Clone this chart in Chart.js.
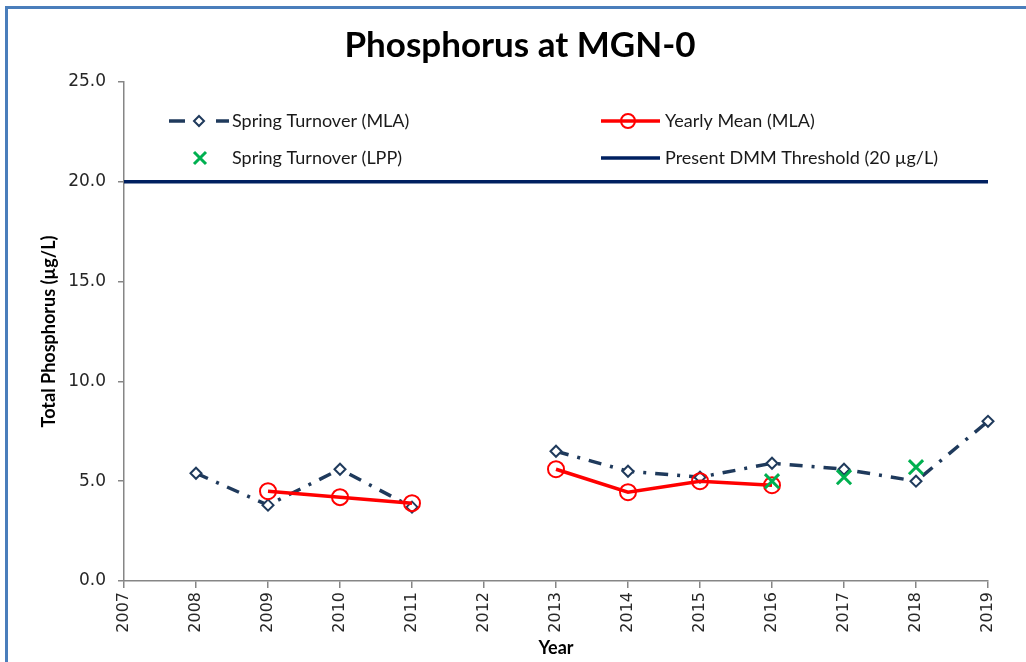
<!DOCTYPE html>
<html>
<head>
<meta charset="utf-8">
<script src="https://cdn.jsdelivr.net/npm/chart.js@4"></script>
<style>
html,body{margin:0;padding:0;background:#fff;}
#wrap{position:relative;width:1026px;height:662px;}
canvas{display:block;}
</style>
</head>
<body>
<div id="wrap"><canvas id="c" width="1026" height="662"></canvas></div>
<script>
const years = [2007, 2008, 2009, 2010, 2011, 2012, 2013, 2014, 2015, 2016, 2017, 2018, 2019];
const springMLA = [null, 5.4, 3.8, 5.6, 3.7, null, 6.5, 5.5, 5.2, 5.9, 5.6, 5.0, 8.0];
const yearlyMean = [null, null, 4.5, 4.2, 3.9, null, 5.6, 4.45, 5.0, 4.8, null, null, null];
const springLPP = [null, null, null, null, null, null, null, null, null, 5.0, 5.2, 5.7, null];
const threshold = [20, null, null, null, null, null, null, null, null, null, null, null, 20];
const yTicks = [0, 5, 10, 15, 20, 25];
const seriesNames = ["Spring Turnover (MLA)", "Yearly Mean (MLA)", "Spring Turnover (LPP)", "Present DMM Threshold (20 \u00b5g/L)"];

function pts(arr){ return years.map((y,i)=>({x:y, y:arr[i]})); }
function ptsNoNull(arr){ return years.map((y,i)=>({x:y,y:arr[i]})).filter(p=>p.y!==null); }

const BLUE = '#1F3A5C';
const RED = '#FF0000';
const GREEN = '#00B050';
const NAVY = '#002060';
const DASH = [13, 9, 3, 9];

const legendPlugin = {
  id: 'customLegend',
  afterDraw(chart){
    const ctx = chart.ctx;
    ctx.save();
    // title
    ctx.fillStyle = '#000';
    ctx.font = 'bold 35px Lato';
    ctx.textAlign = 'center';
    ctx.textBaseline = 'middle';
    ctx.fillText('Phosphorus at MGN-0', 520, 46);

    ctx.font = '18px Lato';
    ctx.textAlign = 'left';
    ctx.fillStyle = '#1a1a1a';
    const r1 = 121, r2 = 158;
    // item 1: dashed blue with diamond
    ctx.strokeStyle = BLUE; ctx.lineWidth = 3.5; ctx.lineCap='butt';
    ctx.beginPath(); ctx.moveTo(169, r1); ctx.lineTo(185, r1); ctx.stroke();
    ctx.beginPath(); ctx.moveTo(216, r1); ctx.lineTo(229, r1); ctx.stroke();
    ctx.lineWidth = 2; ctx.fillStyle='#fff';
    ctx.beginPath(); ctx.moveTo(199, r1-5); ctx.lineTo(204, r1); ctx.lineTo(199, r1+5); ctx.lineTo(194, r1); ctx.closePath(); ctx.fill(); ctx.stroke();
    ctx.fillStyle = '#1a1a1a';
    ctx.fillText(seriesNames[0], 232, r1);
    // item 3: green x
    ctx.strokeStyle = GREEN; ctx.lineWidth = 3;
    ctx.beginPath(); ctx.moveTo(194, r2-6); ctx.lineTo(206, r2+6); ctx.moveTo(206, r2-6); ctx.lineTo(194, r2+6); ctx.stroke();
    ctx.fillText(seriesNames[2], 232, r2);
    // item 2: red line w/ circle
    ctx.strokeStyle = RED; ctx.lineWidth = 3.5;
    ctx.beginPath(); ctx.moveTo(601, r1); ctx.lineTo(660, r1); ctx.stroke();
    ctx.lineWidth = 2;
    ctx.beginPath(); ctx.arc(628, r1, 7, 0, Math.PI*2); ctx.stroke();
    ctx.fillText(seriesNames[1], 665, r1);
    // item 4: navy line
    ctx.strokeStyle = NAVY; ctx.lineWidth = 3.5;
    ctx.beginPath(); ctx.moveTo(601, r2); ctx.lineTo(660, r2); ctx.stroke();
    ctx.fillText(seriesNames[3], 665, r2);

    // frame
    ctx.fillStyle = '#4A7EBB';
    ctx.fillRect(5, 6, 3, 656);
    ctx.fillRect(5, 6, 1021, 3);
    ctx.restore();
  }
};

new Chart(document.getElementById('c'), {
  type: 'line',
  data: {
    datasets: [
      {
        label: seriesNames[2], data: ptsNoNull(springLPP), showLine: false, clip: false,
        pointStyle: 'crossRot', pointRadius: 10, pointBorderWidth: 3,
        borderColor: GREEN, backgroundColor: GREEN, order: 0
      },
      {
        label: seriesNames[1], data: pts(yearlyMean), spanGaps: false, clip: false,
        borderColor: RED, borderWidth: 3.5, pointStyle: 'circle', pointRadius: 8,
        pointBorderWidth: 2, pointBackgroundColor: 'rgba(0,0,0,0)', pointBorderColor: RED,
        tension: 0, order: 1
      },
      {
        label: seriesNames[0], data: pts(springMLA), spanGaps: false, clip: false,
        borderColor: BLUE, borderWidth: 3.5, borderDash: DASH,
        pointStyle: 'rectRot', pointRadius: 5.5, pointBorderWidth: 2,
        pointBackgroundColor: '#fff', pointBorderColor: BLUE, tension: 0, order: 2
      },
      {
        label: seriesNames[3], data: ptsNoNull(threshold), borderColor: NAVY, borderWidth: 3.5,
        pointRadius: 0, tension: 0, order: 3
      }
    ]
  },
  options: {
    responsive: false,
    animation: false,
    events: [],
    layout: { padding: { top: 82, right: 38, bottom: 0, left: 2 } },
    plugins: { legend: { display: false }, tooltip: { enabled: false }, title: { display: false } },
    scales: {
      x: {
        type: 'linear', min: 2007, max: 2019,
        afterBuildTicks(scale){ scale.ticks = years.map(v=>({value:v})); },
        afterFit(scale){ scale.height = 81; },
        grid: { drawOnChartArea: false, drawTicks: true, tickLength: 7, color: '#868686', lineWidth: 1.5 },
        border: { color: '#868686', width: 1.5 },
        ticks: {
          minRotation: 90, maxRotation: 90, autoSkip: false, padding: 4,
          color: '#262626', font: { family: 'DejaVu Sans', size: 16 },
          callback: v => String(v)
        },
        title: { display: true, text: 'Year', color: '#000', font: { family: 'Lato', size: 18, weight: 'bold' }, padding: { top: 0, bottom: 3 } }
      },
      y: {
        min: 0, max: 25,
        afterBuildTicks(scale){ scale.ticks = yTicks.map(v=>({value:v})); },
        afterFit(scale){ scale.width = 122; },
        grid: { drawOnChartArea: false, drawTicks: true, tickLength: 6, color: '#868686', lineWidth: 1.5 },
        border: { color: '#868686', width: 1.5 },
        ticks: { padding: 12, color: '#262626', font: { family: 'DejaVu Sans', size: 17 }, callback: v => Number(v).toFixed(1) },
        title: { display: true, text: 'Total Phosphorus (\u00b5g/L)', color: '#000', font: { family: 'Lato', size: 18, weight: 'bold' }, padding: { top: 36, bottom: 0 } }
      }
    }
  },
  plugins: [legendPlugin]
});
</script>
</body>
</html>
